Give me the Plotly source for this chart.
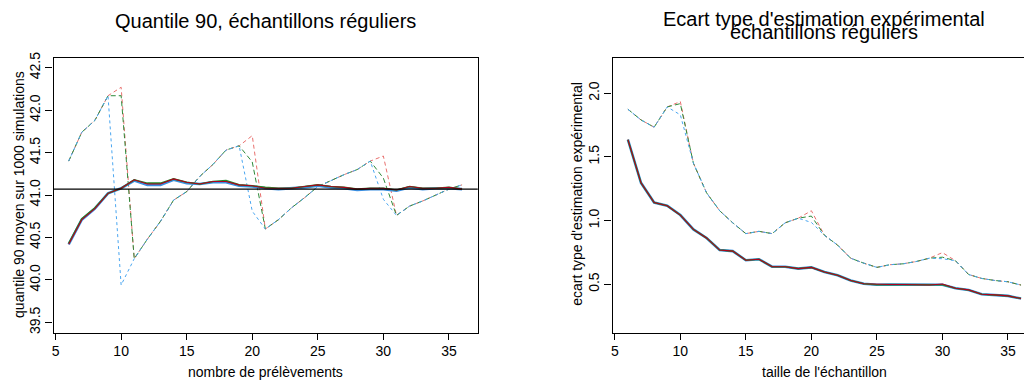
import plotly.graph_objects as go

# Sample sizes shared by both panels
n_samples = list(range(6, 37))

# Left panel: mean 90% quantile over 1000 simulations
q90_dash_blue = [41.40, 41.74, 41.88, 42.17, 39.94, 40.25, 40.48, 40.69, 40.94, 41.04,
                 41.22, 41.36, 41.53, 41.58, 40.81, 40.60, 40.71, 40.85, 40.97, 41.10,
                 41.17, 41.24, 41.30, 41.40, 40.95, 40.76, 40.87, 40.93, 41.00, 41.07, 41.12]
q90_dash_green = [41.40, 41.74, 41.88, 42.17, 42.17, 40.25, 40.48, 40.69, 40.94, 41.04,
                  41.22, 41.36, 41.53, 41.58, 41.39, 40.60, 40.71, 40.85, 40.97, 41.10,
                  41.17, 41.24, 41.30, 41.40, 41.20, 40.76, 40.87, 40.93, 41.00, 41.07, 41.12]
q90_dash_red = [41.40, 41.74, 41.88, 42.17, 42.27, 40.25, 40.48, 40.69, 40.94, 41.04,
                41.22, 41.36, 41.53, 41.58, 41.70, 40.60, 40.71, 40.85, 40.97, 41.10,
                41.17, 41.24, 41.30, 41.40, 41.46, 40.76, 40.87, 40.93, 41.00, 41.07, 41.12]
q90_solid_blue = [40.42, 40.71, 40.84, 41.02, 41.08, 41.17, 41.12, 41.12, 41.18, 41.14,
                  41.13, 41.15, 41.15, 41.11, 41.10, 41.08, 41.07, 41.08, 41.09, 41.11,
                  41.09, 41.08, 41.06, 41.07, 41.07, 41.05, 41.09, 41.07, 41.08, 41.08, 41.07]
q90_solid_green = [40.43, 40.72, 40.85, 41.02, 41.08, 41.18, 41.14, 41.14, 41.19, 41.15,
                   41.13, 41.16, 41.17, 41.12, 41.11, 41.09, 41.08, 41.08, 41.10, 41.12,
                   41.10, 41.09, 41.07, 41.08, 41.08, 41.06, 41.10, 41.08, 41.08, 41.09, 41.07]
q90_solid_red = [40.42, 40.71, 40.84, 41.02, 41.08, 41.18, 41.13, 41.13, 41.19, 41.15,
                 41.13, 41.16, 41.16, 41.12, 41.11, 41.08, 41.08, 41.08, 41.10, 41.12,
                 41.10, 41.09, 41.07, 41.08, 41.08, 41.06, 41.10, 41.08, 41.08, 41.09, 41.07]
q90_reference = 41.07

# Right panel: experimental standard deviation of the estimate
sd_dash_blue = [1.874, 1.790, 1.733, 1.892, 1.830, 1.450, 1.218, 1.077, 0.982, 0.897,
                0.915, 0.897, 0.982, 1.018, 0.985, 0.884, 0.807, 0.704, 0.665, 0.632,
                0.653, 0.660, 0.678, 0.704, 0.700, 0.684, 0.576, 0.545, 0.529, 0.519, 0.493]
sd_dash_green = [1.874, 1.790, 1.733, 1.892, 1.918, 1.450, 1.218, 1.077, 0.982, 0.897,
                 0.915, 0.897, 0.982, 1.018, 1.035, 0.884, 0.807, 0.704, 0.665, 0.632,
                 0.653, 0.660, 0.678, 0.704, 0.712, 0.684, 0.576, 0.545, 0.529, 0.519, 0.493]
sd_dash_red = [1.874, 1.790, 1.733, 1.892, 1.934, 1.450, 1.218, 1.077, 0.982, 0.897,
               0.915, 0.897, 0.982, 1.018, 1.077, 0.884, 0.807, 0.704, 0.665, 0.632,
               0.653, 0.660, 0.678, 0.704, 0.748, 0.684, 0.576, 0.545, 0.529, 0.519, 0.493]
sd_solid_blue = [1.635, 1.296, 1.141, 1.116, 1.043, 0.930, 0.863, 0.768, 0.760, 0.688,
                 0.696, 0.637, 0.637, 0.622, 0.632, 0.596, 0.570, 0.529, 0.503, 0.496,
                 0.498, 0.498, 0.493, 0.493, 0.495, 0.468, 0.455, 0.421, 0.416, 0.408, 0.387]
sd_solid_green = sd_solid_blue
sd_solid_red = [1.635, 1.296, 1.141, 1.116, 1.043, 0.930, 0.863, 0.768, 0.760, 0.688,
                0.696, 0.637, 0.637, 0.622, 0.632, 0.596, 0.570, 0.529, 0.503, 0.498,
                0.498, 0.498, 0.493, 0.493, 0.502, 0.468, 0.455, 0.421, 0.416, 0.408, 0.387]

x_ticks = [5, 10, 15, 20, 25, 30, 35]
q90_ticks = [39.5, 40.0, 40.5, 41.0, 41.5, 42.0, 42.5]
q90_tick_text = ["39.5", "40.0", "40.5", "41.0", "41.5", "42.0", "42.5"]
sd_ticks = [0.5, 1.0, 1.5, 2.0]
sd_tick_text = ["0.5", "1.0", "1.5", "2.0"]

W, H = 1024, 380
FONT = "Liberation Sans, Arial, Helvetica, sans-serif"

BLUE_D, GREEN_D, RED_D = "#4aa6f0", "#2e8a3a", "#e8706e"
BLUE_S, GREEN_S, RED_S = "#3a8ee0", "#1f8a2a", "#b0001e"

fig = go.Figure()


def add_panel(xa, ya, dashes, solids):
    # dashed series first (red, green, blue), then the solid ones on top
    for ys, col, pat in zip(dashes, [RED_D, GREEN_D, BLUE_D],
                            ["4px,3px", "5px,3px", "3px,3px"]):
        fig.add_trace(go.Scatter(x=n_samples, y=ys, mode="lines", xaxis=xa, yaxis=ya,
                                 line=dict(color=col, width=1, dash=pat),
                                 showlegend=False, hoverinfo="skip"))
    for ys, col, wd in zip(solids, [BLUE_S, GREEN_S, RED_S], [2.6, 1.6, 1.1]):
        fig.add_trace(go.Scatter(x=n_samples, y=ys, mode="lines", xaxis=xa, yaxis=ya,
                                 line=dict(color=col, width=wd),
                                 showlegend=False, hoverinfo="skip"))


add_panel("x", "y", [q90_dash_red, q90_dash_green, q90_dash_blue],
          [q90_solid_blue, q90_solid_green, q90_solid_red])
add_panel("x2", "y2", [sd_dash_red, sd_dash_green, sd_dash_blue],
          [sd_solid_blue, sd_solid_green, sd_solid_red])

# horizontal reference level on the left panel
fig.add_shape(type="line", xref="x domain", yref="y", x0=0, x1=1,
              y0=q90_reference, y1=q90_reference, line=dict(color="black", width=1.2))

ydom = [1 - 332.7 / H, 1 - 52.5 / H]
tickfont = dict(family=FONT, size=14, color="black")
common_x = dict(tickmode="array", tickvals=x_ticks, ticks="outside", ticklen=6,
                tickwidth=1, tickcolor="black", showgrid=False, zeroline=False,
                showline=True, linecolor="black", linewidth=1.2, tickfont=tickfont)
common_y = dict(tickmode="array", ticks="outside", ticklen=7, tickwidth=1,
                tickcolor="black", showgrid=False, zeroline=False, showline=True,
                linecolor="black", linewidth=1.2, tickfont=tickfont, tickangle=-90,
                domain=ydom)

fig.update_layout(
    width=W, height=H,
    margin=dict(l=0, r=0, t=0, b=0),
    paper_bgcolor="white", plot_bgcolor="white",
    font=dict(family=FONT, color="black"),
    xaxis={**common_x, "domain": [51.7 / W, 476.7 / W], "range": [4.85, 37.2],
           "anchor": "y", "mirror": True},
    yaxis={**common_y, "range": [39.38, 42.62], "tickvals": q90_ticks,
           "ticktext": q90_tick_text, "anchor": "x", "mirror": True},
    xaxis2={**common_x, "domain": [611.7 / W, 1.0], "range": [4.825, 36.226],
            "anchor": "y2", "mirror": True},
    yaxis2={**common_y, "range": [0.12, 2.28], "tickvals": sd_ticks,
            "ticktext": sd_tick_text, "anchor": "x2"},
)


def label(text, px, py, size, angle=0):
    fig.add_annotation(text=text, x=px / W, y=1 - py / H, xref="paper", yref="paper",
                       xanchor="center", yanchor="middle", showarrow=False,
                       textangle=angle, font=dict(family=FONT, size=size, color="black"))


label("Quantile 90, échantillons réguliers", 264, 15, 20)
label("Ecart type d'estimation expérimental", 824, 13, 20)
label("échantillons réguliers", 824, 26, 20)
label("nombre de prélèvements", 264, 373, 14)
label("taille de l'échantillon", 824, 373, 14)
label("quantile 90 moyen sur 1000 simulations", 17, 191.5, 14, -90)
label("ecart type d'estimation expérimental", 576, 191.5, 14, -90)

fig.write_html("out.html")
